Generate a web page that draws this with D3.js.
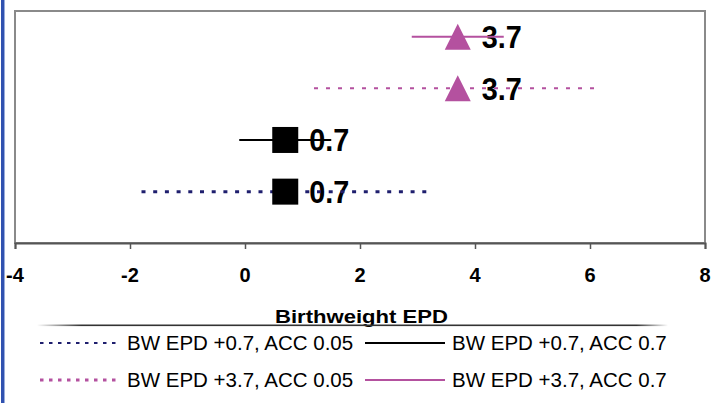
<!DOCTYPE html>
<html lang="en">
<head>
    <meta charset="UTF-8">
    <title>Birthweight EPD</title>
    <script src="https://d3js.org/d3.v7.min.js"></script>
    <style>
        body { margin: 0; background: #fff; }
        svg { display: block; font-family: "Liberation Sans", Arial, sans-serif; }
        text.tick-label { font: bold 20px "Liberation Sans", Arial, sans-serif; }
    </style>
</head>
<body>
    <div id="chart"></div>

    <script>
        // Data
        const seriesNames = ["BW EPD +0.7, ACC 0.05", "BW EPD +0.7, ACC 0.7", "BW EPD +3.7, ACC 0.05", "BW EPD +3.7, ACC 0.7"];
        const epdValues = [0.7, 0.7, 3.7, 3.7];
        const rangeLow = [-1.8, -0.1, 1.2, 2.9];
        const rangeHigh = [3.2, 1.5, 6.2, 4.5];
        const rowLevels = [1, 2, 3, 4];
        const xTicks = [-4, -2, 0, 2, 4, 6, 8];

        // Styles per series
        const colors = ["#1f1f6e", "#000000", "#b4519f", "#b4519f"];
        const widths = [3, 2, 2, 2];
        const dashes = ["4,7.7", null, "4,8", null];
        const legendWidths = [2, 2, 3, 2];
        const legendDashes = ["3.5,5.5", null, "3.5,5.5", null];
        const shapes = ["square", "square", "triangle", "triangle"];

        const W = 718, H = 403;
        const plot = { left: 15, top: 11, right: 705, bottom: 243 };

        const svg = d3.select("#chart").append("svg")
            .attr("width", W)
            .attr("height", H);

        // left blue border
        svg.append("rect").attr("x", 1).attr("y", 0).attr("width", 3).attr("height", H).attr("fill", "#3152b0");
        svg.append("rect").attr("x", 4).attr("y", 0).attr("width", 1).attr("height", H).attr("fill", "#9aaddc");

        const x = d3.scaleLinear().domain([-4, 8]).range([plot.left, plot.right]);
        const y = d3.scaleLinear().domain([0, 4.5]).range([243.3, 10.8]);

        // plot frame
        svg.append("rect")
            .attr("x", plot.left)
            .attr("y", plot.top)
            .attr("width", plot.right - plot.left)
            .attr("height", plot.bottom - plot.top)
            .attr("fill", "none")
            .attr("stroke", "#8a8a8a")
            .attr("stroke-width", 2);

        // x axis: line and tick marks from d3
        const axis = svg.append("g")
            .attr("transform", `translate(0,${plot.bottom})`)
            .call(d3.axisBottom(x)
                .tickValues(xTicks)
                .tickFormat(() => "")
                .tickSize(6));
        axis.select(".domain").attr("stroke", "#555").attr("stroke-width", 2);
        axis.selectAll(".tick line").attr("stroke", "#555").attr("stroke-width", 1.5);

        // tick labels
        svg.append("g").selectAll("text")
            .data(xTicks)
            .join("text")
            .attr("class", "tick-label")
            .attr("x", d => x(d))
            .attr("y", 282)
            .attr("text-anchor", "middle")
            .attr("fill", "#000")
            .text(d => String(d));

        // axis title
        svg.append("text")
            .attr("x", 275)
            .attr("y", 323)
            .attr("textLength", 173)
            .attr("lengthAdjust", "spacingAndGlyphs")
            .attr("font-size", 18)
            .attr("font-weight", "bold")
            .text("Birthweight EPD");

        const idx = d3.range(seriesNames.length);

        // value labels (drawn first, lines cross over them)
        svg.append("g").selectAll("text")
            .data(idx)
            .join("text")
            .attr("transform", i => `translate(${x(epdValues[i]) + 24},${y(rowLevels[i]) + 11.5}) scale(0.93,1)`)
            .attr("font-size", 31)
            .attr("font-weight", "bold")
            .attr("fill", "#000")
            .text(i => epdValues[i].toFixed(1));

        // range lines
        svg.append("g").selectAll("line")
            .data(idx)
            .join("line")
            .attr("x1", i => x(rangeLow[i]))
            .attr("x2", i => x(rangeHigh[i]))
            .attr("y1", i => y(rowLevels[i]))
            .attr("y2", i => y(rowLevels[i]))
            .attr("stroke", i => colors[i])
            .attr("stroke-width", i => widths[i])
            .attr("stroke-dasharray", i => dashes[i]);

        // markers
        const squareSym = d3.symbol().type(d3.symbolSquare).size(26 * 26);
        const triPath = "M0,-13L13,13L-13,13Z";
        svg.append("g").selectAll("path")
            .data(idx)
            .join("path")
            .attr("transform", i => `translate(${x(epdValues[i])},${y(rowLevels[i])})`)
            .attr("d", i => shapes[i] === "square" ? squareSym() : triPath)
            .attr("fill", i => shapes[i] === "square" ? "#000" : colors[i]);

        // legend top edge (fading shadow line)
        const defs = svg.append("defs");
        const grad = defs.append("linearGradient").attr("id", "legendEdge");
        grad.append("stop").attr("offset", "0%").attr("stop-color", "#333").attr("stop-opacity", 0);
        grad.append("stop").attr("offset", "7%").attr("stop-color", "#333").attr("stop-opacity", 1);
        grad.append("stop").attr("offset", "95%").attr("stop-color", "#333").attr("stop-opacity", 1);
        grad.append("stop").attr("offset", "100%").attr("stop-color", "#333").attr("stop-opacity", 0);
        svg.append("rect")
            .attr("x", 37)
            .attr("y", 324.5)
            .attr("width", 631)
            .attr("height", 1.6)
            .attr("fill", "url(#legendEdge)");

        // legend
        const colLine = [40, 365];
        const colLineEnd = [117, 445];
        const colText = [127, 452];
        const rowBase = [350, 387];
        const leg = svg.append("g").selectAll("g")
            .data(idx)
            .join("g");
        leg.append("line")
            .attr("x1", i => colLine[i % 2])
            .attr("x2", i => colLineEnd[i % 2])
            .attr("y1", i => rowBase[Math.floor(i / 2)] - 7)
            .attr("y2", i => rowBase[Math.floor(i / 2)] - 7)
            .attr("stroke", i => colors[i])
            .attr("stroke-width", i => legendWidths[i])
            .attr("stroke-dasharray", i => legendDashes[i]);
        leg.append("text")
            .attr("x", i => colText[i % 2])
            .attr("y", i => rowBase[Math.floor(i / 2)])
            .attr("font-size", 20.5)
            .attr("fill", "#000")
            .text(i => seriesNames[i]);
    </script>
</body>
</html>
